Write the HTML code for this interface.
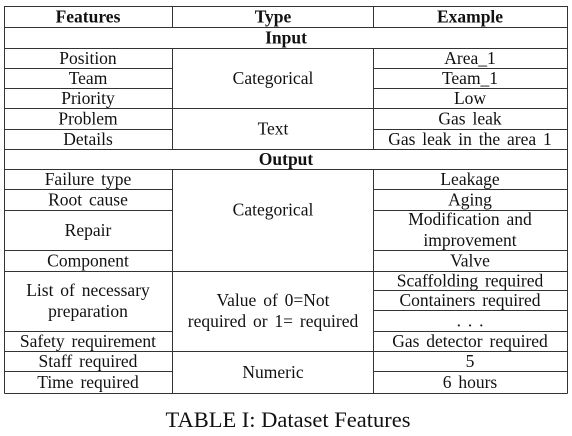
<!DOCTYPE html>
<html><head><meta charset="utf-8"><style>
html,body{margin:0;padding:0;background:#fff;width:572px;height:436px;overflow:hidden}
svg{display:block}
text{font-family:"Liberation Serif",serif;font-size:17.5px;fill:#111;text-anchor:middle;word-spacing:2.5px}
.b{font-weight:bold}
line{stroke:#333;stroke-width:1}
</style></head><body>
<svg width="572" height="436">
<g id="lines"></g>
<g id="cells"></g>
<text x="288" y="427" style="font-size:22.5px;word-spacing:0">TABLE I: Dataset Features</text>
</svg>
<script>
const X0=4.5,X1=172.5,X2=373.5,X3=567.5;
const lines=document.getElementById('lines');
function L(x1,y1,x2,y2){const l=document.createElementNS('http://www.w3.org/2000/svg','line');
l.setAttribute('x1',x1);l.setAttribute('y1',y1);l.setAttribute('x2',x2);l.setAttribute('y2',y2);


lines.appendChild(l);}
const c1=[6,27,48,68,88,108,129,149,169,189,210,250,271,331,351,371,393];
const c2=[6,27,48,108,149,169,271,351,393];
const c3=[6,27,48,68,88,108,129,149,169,189,210,250,271,290,310,331,351,371,393];
c1.forEach(y=>L(X0,y+.5,X1,y+.5));
c2.forEach(y=>L(X1,y+.5,X2,y+.5));
c3.forEach(y=>L(X2,y+.5,X3,y+.5));
L(X0,6,X0,393.5);L(X3,6,X3,393.5);
[[6,27],[48,149],[169,393]].forEach(([a,b])=>{L(X1,a,X1,b+.5);L(X2,a,X2,b+.5);});
const cells=document.getElementById('cells');
function T(x,y,s,bold,name){const t=document.createElementNS('http://www.w3.org/2000/svg','text');
t.setAttribute('x',x);t.setAttribute('y',y);t.textContent=s;if(bold)t.setAttribute('class','b');


cells.appendChild(t);}
const m1=88,m2=273,m3=470;
function mid(a,b){return (a+b)/2+6;}
T(m1,mid(6,27),'Features',1,'header-features');T(m2,mid(6,27),'Type',1,'header-type');T(m3,mid(6,27),'Example',1,'header-example');
T(286,mid(27,48),'Input',1,'section-input');T(286,mid(149,169),'Output',1,'section-output');
const f1=[['Position',48,68],['Team',68,88],['Priority',88,108],['Problem',108,129],['Details',129,149],['Failure type',169,189],['Root cause',189,210],['Repair',210,250],['Component',250,271],['Safety requirement',331,351],['Staff required',351,371],['Time required',371,393]];
f1.forEach(([s,a,b])=>T(m1,mid(a,b),s,0,'feature-cell'));
T(m1,296,'List of necessary',0,'feature-cell');T(m1,317,'preparation',0,'feature-cell');
T(m2,mid(48,108),'Categorical',0,'type-cell');T(m2,mid(108,149),'Text',0,'type-cell');
T(m2,mid(169,250),'Categorical',0,'type-cell');
T(m2,306,'Value of 0=Not',0,'type-cell');T(m2,327,'required or 1= required',0,'type-cell');
T(m2,mid(351,393),'Numeric',0,'type-cell');
const e=[['Area_1',48,68],['Team_1',68,88],['Low',88,108],['Gas leak',108,129],['Gas leak in the area 1',129,149],['Leakage',169,189],['Aging',189,210],['Valve',250,271],['Scaffolding required',271,290],['Containers required',290,310],['. . .',310,331],['Gas detector required',331,351],['5',351,371],['6 hours',371,393]];
e.forEach(([s,a,b])=>T(m3,mid(a,b),s,0,'example-cell'));
T(m3,225,'Modification and',0,'example-cell');T(m3,246,'improvement',0,'example-cell');
</script>
</body></html>
